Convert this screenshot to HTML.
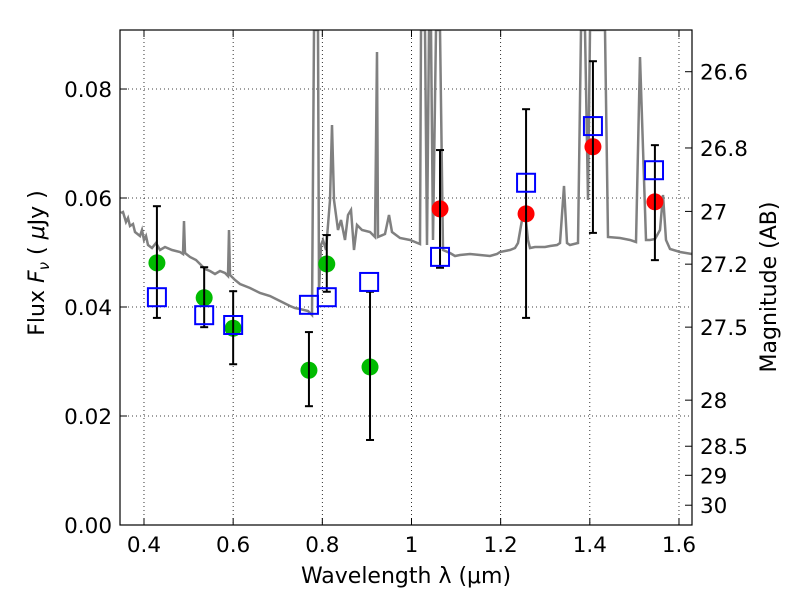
<!DOCTYPE html>
<html><head><meta charset="utf-8"><style>body{margin:0;background:#fff}svg{font-family:"DejaVu Sans","Liberation Sans",sans-serif}</style></head>
<body>
<svg id="c" width="800" height="600"></svg>
<script>
const specLam=[];const specFlux=[];
const specPx=[[121,213],[123,212],[126,222],[128,218],[130,226],[133,224],[135,232],[140,236],[142,230],[144,240],[146,236],[148,245],[152,248],[156,243],[160,250],[165,247],[172,250],[180,252],[183,254],[184,221],[185,253],[190,257],[196,260],[200,264],[205,269],[210,271],[215,274],[220,271],[225,273],[228,276],[229,230],[230,275],[235,280],[240,284],[250,288],[260,293],[270,296],[280,301],[290,306],[295,308],[300,309],[308,311],[312,315],[314,30],[316,30],[317,30],[318,30],[319,290],[321,245],[323,240],[326,250],[330,200],[332,125],[334,200],[338,230],[341,220],[345,240],[348,215],[351,210],[354,250],[357,225],[362,230],[370,232],[375,237],[377,52],[378,237],[385,234],[389,215],[392,232],[400,238],[410,240],[415,242],[420,244],[421,30],[425,30],[427,245],[429,30],[431,30],[433,240],[436,30],[440,30],[443,250],[450,253],[455,256],[460,255],[470,254],[480,255],[490,256],[497,254],[500,252],[510,250],[515,248],[518,243],[522,220],[525,212],[528,240],[530,248],[535,247],[545,247],[550,246],[557,245],[560,243],[564,186],[567,243],[570,245],[578,243],[581,30],[585,30],[588,200],[590,30],[596,30],[600,30],[605,30],[608,237],[620,238],[630,240],[636,242],[640,57],[646,240],[650,240],[655,239],[660,230],[663,195],[666,240],[670,249],[680,252],[692,254]];
specPx.forEach(p=>{specLam.push(+(0.4+(p[0]-144)/445.8).toFixed(4));specFlux.push(+((525-p[1])/5450).toFixed(5));});
const greenLam=[0.429,0.535,0.600,0.770,0.810,0.907];
const greenFlux=[0.0481,0.0417,0.0361,0.0284,0.0479,0.0290];
const greenHi=[0.0585,0.0473,0.0429,0.0354,0.0532,0.0428];
const greenLo=[0.0380,0.0363,0.0295,0.0218,0.0428,0.0156];
const redLam=[1.064,1.257,1.407,1.546];
const redFlux=[0.0580,0.0571,0.0694,0.0593];
const redHi=[0.0688,0.0763,0.0851,0.0697];
const redLo=[0.0472,0.0380,0.0536,0.0486];
const boxLam=[0.429,0.535,0.600,0.770,0.810,0.905,1.064,1.257,1.407,1.544];
const boxFlux=[0.0418,0.0385,0.0367,0.0404,0.0418,0.0446,0.0492,0.0628,0.0732,0.0651];
const xTicks=[0.4,0.6,0.8,1.0,1.2,1.4,1.6];
const xLabels=["0.4","0.6","0.8","1","1.2","1.4","1.6"];
const yTicks=[0,0.02,0.04,0.06,0.08];
const yLabels=["0.00","0.02","0.04","0.06","0.08"];
const magTicks=[26.6,26.8,27,27.2,27.5,28,28.5,29,30];
const magLabels=["26.6","26.8","27","27.2","27.5","28","28.5","29","30"];

const L=120,R=692,T=30,B=525,xmin=0.3462,xmax=1.6292,ymin=0,ymax=0.09083;
const X=v=>L+(v-xmin)/(xmax-xmin)*(R-L);
const Y=v=>B-(v-ymin)/(ymax-ymin)*(B-T);
const NS="http://www.w3.org/2000/svg";const svg=document.getElementById('c');
function mk(t,a,p){const e=document.createElementNS(NS,t);for(const k in a)e.setAttribute(k,a[k]);(p||svg).appendChild(e);return e;}
const defs=mk('defs',{});const cp=mk('clipPath',{id:'cl'},defs);mk('rect',{x:L,y:T,width:R-L,height:B-T},cp);
const grid=mk('g',{});
xTicks.forEach((v,i)=>{const x=X(v);
 mk('line',{x1:x,x2:x,y1:T,y2:B,stroke:'#000','stroke-width':0.8,'stroke-dasharray':'1,3'},grid);
 mk('line',{x1:x,x2:x,y1:B,y2:B-7,stroke:'#000'});mk('line',{x1:x,x2:x,y1:T,y2:T+7,stroke:'#000'});
 const t=mk('text',{x:x,y:B+27,'font-size':21.5,'text-anchor':'middle'});t.textContent=xLabels[i];
 });
yTicks.forEach((v,i)=>{const y=Y(v);
 mk('line',{x1:L,x2:R,y1:y,y2:y,stroke:'#000','stroke-width':0.8,'stroke-dasharray':'1,3'},grid);
 mk('line',{x1:L,x2:L+7,y1:y,y2:y,stroke:'#000'});
 const t=mk('text',{x:L-8,y:y+8,'font-size':21.5,'text-anchor':'end'});t.textContent=yLabels[i];
 });
magTicks.forEach((m,i)=>{const y=Y(Math.pow(10,(23.9-m)/2.5));
 mk('line',{x1:R,x2:R-7,y1:y,y2:y,stroke:'#000'});
 const t=mk('text',{x:R+8,y:y+8,'font-size':21.5});t.textContent=magLabels[i];
 });
const d=specLam.map((l,i)=>(i?'L':'M')+X(l).toFixed(1)+','+Y(specFlux[i]).toFixed(1)).join('');
const sp=mk('path',{d:d,fill:'none',stroke:'#808080','stroke-width':2.5,'clip-path':'url(#cl)'});

function err(lam,hi,lo){for(let i=0;i<lam.length;i++){const x=X(lam[i]);
 const e=mk('g',{stroke:'#000','stroke-width':2});
 mk('line',{x1:x,x2:x,y1:Y(hi[i]),y2:Y(lo[i])},e);mk('line',{x1:x-4,x2:x+4,y1:Y(hi[i]),y2:Y(hi[i])},e);mk('line',{x1:x-4,x2:x+4,y1:Y(lo[i]),y2:Y(lo[i])},e);}}
function dots(lam,f,col,name){for(let i=0;i<lam.length;i++){const c=mk('circle',{cx:X(lam[i]),cy:Y(f[i]),r:8.5,fill:col});
 }}
dots(greenLam,greenFlux,'#00bb00','green-point');dots(redLam,redFlux,'#ff0000','red-point');
err(greenLam,greenHi,greenLo);err(redLam,redHi,redLo);
boxLam.forEach((l,i)=>{const b=mk('rect',{x:X(l)-9,y:Y(boxFlux[i])-9,width:18,height:18,fill:'none',stroke:'#0000ff','stroke-width':2});
 });
const fr=mk('rect',{x:L,y:T,width:R-L,height:B-T,fill:'none',stroke:'#000','stroke-width':1.2});

const xl=mk('text',{x:406,y:583,'font-size':22,'text-anchor':'middle','xml:space':'preserve'});xl.textContent='Wavelength  λ (μm)';

const yl=mk('text',{x:44,y:263,'font-size':22,'text-anchor':'middle',transform:'rotate(-90 44 263)','xml:space':'preserve'});yl.innerHTML='Flux  <tspan font-style="italic">F</tspan><tspan font-size="15" font-style="italic" dy="5">ν</tspan><tspan dy="-5">  (  </tspan><tspan font-style="italic">μ</tspan>Jy )';

const ml=mk('text',{x:776,y:287,'font-size':22,'text-anchor':'middle',transform:'rotate(-90 776 287)'});ml.textContent='Magnitude (AB)';

</script>
</body></html>
